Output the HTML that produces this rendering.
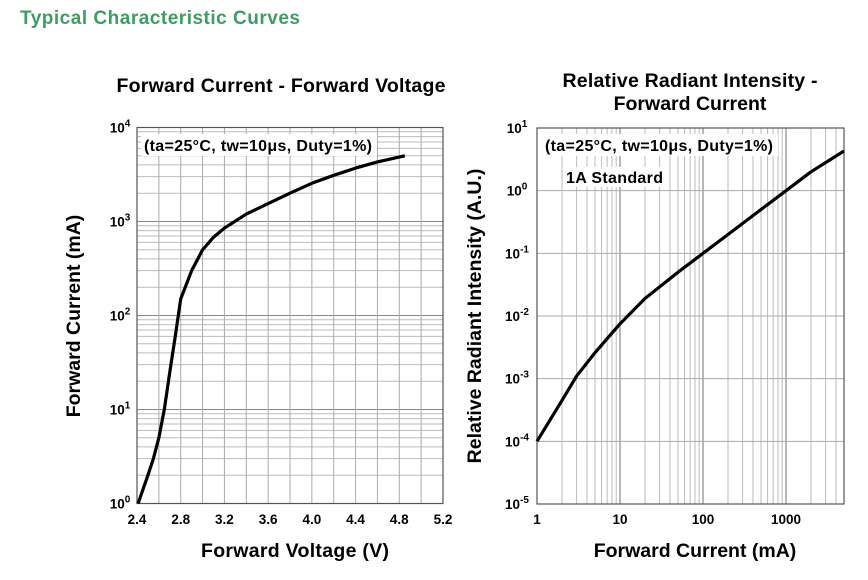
<!DOCTYPE html>
<html><head><meta charset="utf-8"><style>
body{margin:0;background:#fff;width:868px;height:575px;overflow:hidden;font-family:"Liberation Sans",sans-serif}
text{font-family:"Liberation Sans",sans-serif;font-weight:bold}
</style></head><body>
<svg width="868" height="575">
<text x="20" y="24" font-size="19" textLength="280" fill="#3f9c63">Typical Characteristic Curves</text>
<text x="281" y="92" font-size="19.5" textLength="329" text-anchor="middle">Forward Current - Forward Voltage</text>
<text x="690" y="87" font-size="19.5" textLength="255" text-anchor="middle">Relative Radiant Intensity -</text>
<text x="690" y="110" font-size="19.5" text-anchor="middle">Forward Current</text>
<g id="L"></g><g id="R"></g>
<text x="295" y="557" font-size="19.5" textLength="188" text-anchor="middle">Forward Voltage (V)</text>
<text transform="translate(80,316) rotate(-90)" font-size="19.5" text-anchor="middle">Forward Current (mA)</text>
<text x="695" y="557" font-size="19.5" text-anchor="middle">Forward Current (mA)</text>
<text transform="translate(481,316) rotate(-90)" font-size="19.5" text-anchor="middle">Relative Radiant Intensity (A.U.)</text>
</svg>
<script>
const leftV=[2.41,2.5,2.55,2.6,2.65,2.7,2.75,2.8,2.9,3.0,3.1,3.2,3.4,3.6,3.8,4.0,4.2,4.4,4.6,4.85];
const leftI=[1,2,3,5,10,25,60,150,300,500,680,850,1200,1550,2000,2550,3100,3700,4300,5000];
const leftXTicks=["2.4","2.8","3.2","3.6","4.0","4.4","4.8","5.2"];
const rightI=[1,2,3,5,10,20,50,100,200,500,1000,2000,5000];
const rightR=[1e-4,4.5e-4,1.1e-3,2.6e-3,7.5e-3,0.019,0.05,0.1,0.2,0.5,1.0,2.0,4.3];
const rightXTicks=["1","10","100","1000"];
const NS="http://www.w3.org/2000/svg";
function mk(p,t,a,txt){const e=document.createElementNS(NS,t);for(const k in a)e.setAttribute(k,a[k]);if(txt!==undefined)e.textContent=txt;p.appendChild(e);return e;}
// left
const L=document.getElementById('L');
const lx0=137,lx1=443,ly0=127.5,ly1=503.5;
const lxs=v=>lx0+(v-2.4)/2.8*(lx1-lx0);
const lys=i=>ly1-Math.log10(i)/4*(ly1-ly0);
mk(L,'rect',{x:lx0,y:ly0,width:lx1-lx0,height:ly1-ly0,fill:'#fff'});
for(let d=0;d<4;d++)for(let m=2;m<10;m++){const y=lys(m*10**d);const e=mk(L,'line',{x1:lx0,x2:lx1,y1:y,y2:y,stroke:'#bbb','stroke-width':1});

}
for(let d=1;d<4;d++){const y=lys(10**d);mk(L,'line',{x1:lx0,x2:lx1,y1:y,y2:y,stroke:'#888','stroke-width':1});}
for(let k=1;k<14;k++){const x=lxs(2.4+k*0.2);const e=mk(L,'line',{x1:x,x2:x,y1:ly0,y2:ly1,stroke:'#aaa','stroke-width':1});

}
mk(L,'rect',{x:lx0,y:ly0,width:lx1-lx0,height:ly1-ly0,fill:'none',stroke:'#555','stroke-width':1.2});
leftXTicks.forEach(t=>{const e=mk(L,'text',{x:lxs(+t),y:524,'font-size':13.5,'text-anchor':'middle'},t);

});
for(let d=0;d<=4;d++){const e=mk(L,'text',{x:120,y:lys(10**d)+5,'font-size':13.5,'text-anchor':'middle'});


e.innerHTML='10<tspan dy="-6" font-size="10">'+d+'</tspan>';}
mk(L,'rect',{x:141,y:134,width:236,height:22,fill:'#fff'});
const la=mk(L,'text',{x:144,y:151,'font-size':16,textLength:228},'(ta=25°C, tw=10μs, Duty=1%)');

const lp=mk(L,'polyline',{points:leftV.map((v,i)=>lxs(v)+','+lys(leftI[i])).join(' '),fill:'none',stroke:'#000','stroke-width':3.2,'stroke-linejoin':'round'});


// right
const R=document.getElementById('R');
const rx0=537,rdec=83,ry0=128,ry1=504;
const rx1=rx0+Math.log10(5000)*rdec;
const rxs=v=>rx0+Math.log10(v)*rdec;
const rys=v=>ry0+(1-Math.log10(v))/6*(ry1-ry0);
for(let d=0;d<4;d++)for(let m=1;m<10;m++){const v=m*10**d;if(v>=5000||v==1)continue;const x=rxs(v);const e=mk(R,'line',{x1:x,x2:x,y1:ry0,y2:ry1,stroke:m==1?'#888':'#bbb','stroke-width':m==1?1.2:1});

}
for(let d=-4;d<=0;d++){const y=rys(10**d);const e=mk(R,'line',{x1:rx0,x2:rx1,y1:y,y2:y,stroke:'#aaa','stroke-width':1});

}
mk(R,'rect',{x:rx0,y:ry0,width:rx1-rx0,height:ry1-ry0,fill:'none',stroke:'#555','stroke-width':1.2});
rightXTicks.forEach(t=>{const e=mk(R,'text',{x:rxs(+t),y:524,'font-size':13.5,'text-anchor':'middle'},t);

});
for(let d=-5;d<=1;d++){const e=mk(R,'text',{x:517,y:rys(10**d)+5,'font-size':13.5,'text-anchor':'middle'});


e.innerHTML='10<tspan dy="-6" font-size="10">'+d+'</tspan>';}
mk(R,'rect',{x:542,y:134,width:236,height:22,fill:'#fff'});
const ra=mk(R,'text',{x:545,y:151,'font-size':16,textLength:228},'(ta=25°C, tw=10μs, Duty=1%)');

mk(R,'rect',{x:563,y:167,width:102,height:20,fill:'#fff'});
const rs=mk(R,'text',{x:566,y:183,'font-size':16,textLength:97},'1A Standard');

const rp=mk(R,'polyline',{points:rightI.map((v,i)=>rxs(v)+','+rys(rightR[i])).join(' '),fill:'none',stroke:'#000','stroke-width':3.2,'stroke-linejoin':'round'});


</script>
</body></html>
